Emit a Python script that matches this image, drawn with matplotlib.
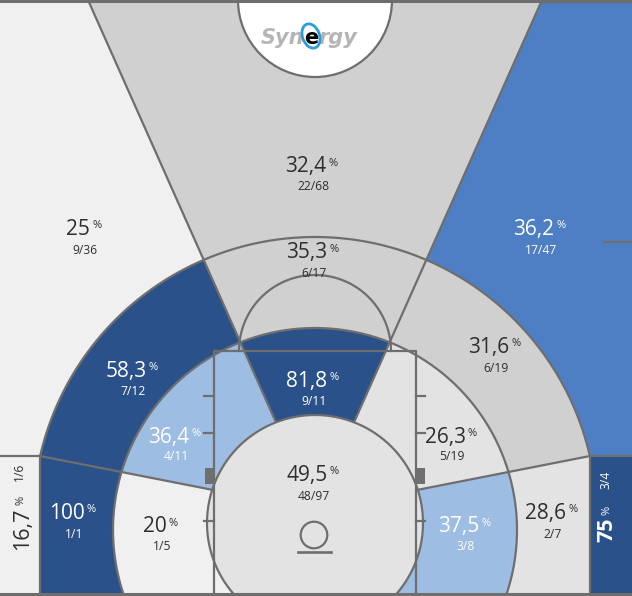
import numpy as np
import matplotlib.pyplot as plt
from matplotlib.patches import Polygon, Circle, Rectangle, Ellipse

plt.rcParams['font.family'] = ['Open Sans', 'DejaVu Sans']

# zone order inside each ring: left corner/base, left wing, top, right wing, right corner/base
rings = ['three', 'long_two', 'short_two']
sides = ['left_base', 'left_wing', 'top', 'right_wing', 'right_base']

makes_3 = [1, 9, 22, 17, 3]
att_3 = [6, 36, 68, 47, 4]
makes_long = [1, 7, 6, 6, 2]
att_long = [1, 12, 17, 19, 7]
makes_short = [1, 4, 9, 5, 3]
att_short = [5, 11, 11, 19, 8]
makes_ra = 48
att_ra = 97

# colour band of every zone vs league (0 = cold ... 5 = hot)
band_3 = [0, 0, 2, 4, 5]
band_long = [5, 5, 2, 2, 1]
band_short = [0, 3, 5, 1, 3]
band_ra = 1

band_colors = ['#f0f0f0', '#e3e3e3', '#d0d0d0', '#9dbde3', '#4e7fc4', '#2a5189']
LINE = '#6e6e6e'
LW = 1.6
DARK = '#2e2e2e'

W, HH = 632, 596
fig = plt.figure(figsize=(W / 100, HH / 100), dpi=100)
ax = fig.add_axes([0, 0, 1, 1])
ax.set_xlim(0, W)
ax.set_ylim(HH, 0)
ax.axis('off')

# court geometry (pixel units)
hub = (315, 510)
base_y = 593
c3 = (315, 519, 282)     # three point arc
cm = (315, 530, 202)     # long two / short two split
cr = (315, 523, 108)     # restricted area


def arc_pts(c, y_cut, n=300):
    x0, y0, r = c
    a = np.degrees(np.arcsin((y_cut - y0) / r))
    t = np.radians(np.linspace(180 - a, 360 + a, n))
    return np.column_stack([x0 + r * np.cos(t), y0 + r * np.sin(t)])


def ang(p):
    return np.degrees(np.arctan2(p[1] - hub[1], p[0] - hub[0])) % 360


def sector(a0, a1, r=3000):
    t = np.radians(np.linspace(a0, a1, 80))
    pts = np.column_stack([hub[0] + r * np.cos(t), hub[1] + r * np.sin(t)])
    return np.vstack([[hub], pts])


def on_ray(p, y):
    return (hub[0] + (p[0] - hub[0]) * (y - hub[1]) / (p[1] - hub[1]), y)


pL1, pR1, pL2, pR2 = (88, 0), (542, 0), (40, 456), (590, 456)
aL1, aR1, aL2, aR2 = ang(pL1), ang(pR1), ang(pL2), ang(pR2)
sector_ranges = [(90, aL2), (aL2, aL1), (aL1, aR1), (aR1, aR2), (aR2, 450)]

# three point zones
top_l = on_ray(pL1, -5)
top_r = on_ray(pR1, -5)
three_polys = [
    [(-5, 456), (40, 456), (40, base_y), (-5, base_y)],
    [(-5, -5), top_l, hub, (40, 456), (-5, 456)],
    [top_l, top_r, hub],
    [top_r, (640, -5), (640, 456), (590, 456), hub],
    [(590, 456), (640, 456), (640, base_y), (590, base_y)],
]
for poly, b in zip(three_polys, band_3):
    ax.add_patch(Polygon(poly, closed=True, fc=band_colors[b], ec='none', zorder=1))

# inside the arc
p3 = np.vstack([arc_pts(c3, 456), [(590, base_y), (40, base_y)]])
clip3 = Polygon(p3, closed=True, transform=ax.transData)
pm = arc_pts(cm, base_y)
clipm = Polygon(pm, closed=True, transform=ax.transData)

for (a0, a1), b in zip(sector_ranges, band_long):
    p = Polygon(sector(a0, a1), closed=True, fc=band_colors[b], ec='none', zorder=2)
    ax.add_patch(p)
    p.set_clip_path(clip3)

for (a0, a1), b in zip(sector_ranges, band_short):
    p = Polygon(sector(a0, a1), closed=True, fc=band_colors[b], ec='none', zorder=3)
    ax.add_patch(p)
    p.set_clip_path(clipm)

# zone borders
for p in (pL1, pR1, pL2, pR2):
    ax.plot([p[0], hub[0]], [p[1], hub[1]], color=LINE, lw=LW, zorder=4)
a3 = arc_pts(c3, 456)
ax.plot(a3[:, 0], a3[:, 1], color=LINE, lw=LW, zorder=4)
ax.plot(pm[:, 0], pm[:, 1], color=LINE, lw=LW, zorder=4)
for x in (40, 590):
    ax.plot([x, x], [456, base_y], color=LINE, lw=LW, zorder=4)
ax.plot([0, 40], [456, 456], color=LINE, lw=LW, zorder=4)
ax.plot([590, W], [456, 456], color=LINE, lw=LW, zorder=4)

# restricted area
pr = arc_pts(cr, base_y)
ax.add_patch(Polygon(pr, closed=True, fc=band_colors[band_ra], ec='none', zorder=5))
ax.plot(pr[:, 0], pr[:, 1], color=LINE, lw=LW, zorder=6)

# paint, free throw circle, hoop
ax.plot([214, 214, 416, 416], [base_y, 351, 351, base_y], color=LINE, lw=LW, zorder=7)
t = np.radians(np.linspace(180, 360, 120))
ax.plot(315 + 76 * np.cos(t), 351 + 76 * np.sin(t), color=LINE, lw=LW, zorder=7)
for y in (396, 433, 521):
    ax.plot([204, 214], [y, y], color=LINE, lw=LW, zorder=7)
    ax.plot([416, 425], [y, y], color=LINE, lw=LW, zorder=7)
ax.add_patch(Rectangle((205, 468), 9, 16, fc=LINE, ec='none', zorder=7))
ax.add_patch(Rectangle((416, 468), 8.5, 16, fc=LINE, ec='none', zorder=7))
ax.add_patch(Circle((314, 535), 13.3, fill=False, ec=LINE, lw=LW, zorder=7))
ax.plot([298, 331], [552, 552], color=LINE, lw=LW + 0.3, zorder=7)

# frame
ax.plot([0, W], [1, 1], color=LINE, lw=2.2, zorder=9)
ax.plot([0, W], [593.5, 593.5], color=LINE, lw=2.2, zorder=9)
ax.plot([604, W], [242, 242], color=LINE, lw=LW, zorder=4)

# logo
ax.add_patch(Circle((315, 0), 77, fc='white', ec=LINE, lw=LW, zorder=8))
t1 = ax.text(304, 44, 'Syn', fontsize=15, fontweight='bold', style='italic',
             color='#b5b5b5', ha='right', va='baseline', zorder=10, family='DejaVu Sans')
t2 = ax.annotate('e', xy=(1, 44), xycoords=(t1, 'data'), xytext=(0, 0),
                 textcoords='offset points', fontsize=15, fontweight='bold',
                 color='black', ha='left', va='baseline', zorder=11, family='DejaVu Sans')
ax.annotate('rgy', xy=(1, 44), xycoords=(t2, 'data'), xytext=(0, 0),
            textcoords='offset points', fontsize=15, fontweight='bold', style='italic',
            color='#b5b5b5', ha='left', va='baseline', zorder=10, family='DejaVu Sans')
ax.add_patch(Ellipse((311, 36), 17, 25, angle=-20, fill=False, ec='#2a9fd8', lw=2, zorder=12))


def pct_text(m, a):
    s = f'{100 * m / a:.1f}'
    if s.endswith('.0'):
        s = s[:-2]
    return s.replace('.', ',')


def label(gx, yb, yf, m, a, band, bold=False):
    col = 'white' if band >= 3 else DARK
    fw = 'bold' if bold else 'normal'
    txt = ax.text(gx - 7, yb, pct_text(m, a), ha='center', va='baseline',
                  fontsize=15, color=col, zorder=12, fontweight=fw)
    ax.annotate('%', xy=(1, yb - 6.5), xycoords=(txt, 'data'), xytext=(1.5, 0),
                textcoords='offset points', ha='left', va='baseline',
                fontsize=8, color=col, zorder=12)
    ax.text(gx, yf, f'{m}/{a}', ha='center', va='baseline', fontsize=8.7,
            color=col, zorder=12)


def vlabel(xb, yc, xs, yp, yf, m, a, band, bold=False):
    col = 'white' if band >= 3 else DARK
    fw = 'bold' if bold else 'normal'
    kw = dict(rotation=90, rotation_mode='anchor', ha='center', va='baseline',
              color=col, zorder=12)
    ax.text(xb, yc, pct_text(m, a), fontsize=15.5, fontweight=fw, **kw)
    ax.text(xs, yp, '%', fontsize=8, **kw)
    ax.text(xs, yf, f'{m}/{a}', fontsize=8.7, **kw)


# label anchors (group centre x, number baseline, fraction baseline)
pos_3 = [None, (85, 235, 254), (313, 172, 190), (541, 235, 254), None]
pos_long = [(74, 519, 538), (133, 377, 395), (314, 258, 277), (496, 353, 372), (553, 519, 538)]
pos_short = [(162, 532, 550), (176, 443, 460), (314, 387, 405), (452, 443, 460), (466, 532, 550)]
pos_ra = (314, 481, 500)

for i in range(5):
    if pos_3[i] is not None:
        label(*pos_3[i], makes_3[i], att_3[i], band_3[i])
    label(*pos_long[i], makes_long[i], att_long[i], band_long[i])
    label(*pos_short[i], makes_short[i], att_short[i], band_short[i])
label(*pos_ra, makes_ra, att_ra, band_ra)

vlabel(28, 529, 23, 500, 472, makes_3[0], att_3[0], band_3[0])
vlabel(612, 530, 610, 510, 480, makes_3[4], att_3[4], band_3[4], bold=True)

fig.savefig('out.png', dpi=100)
